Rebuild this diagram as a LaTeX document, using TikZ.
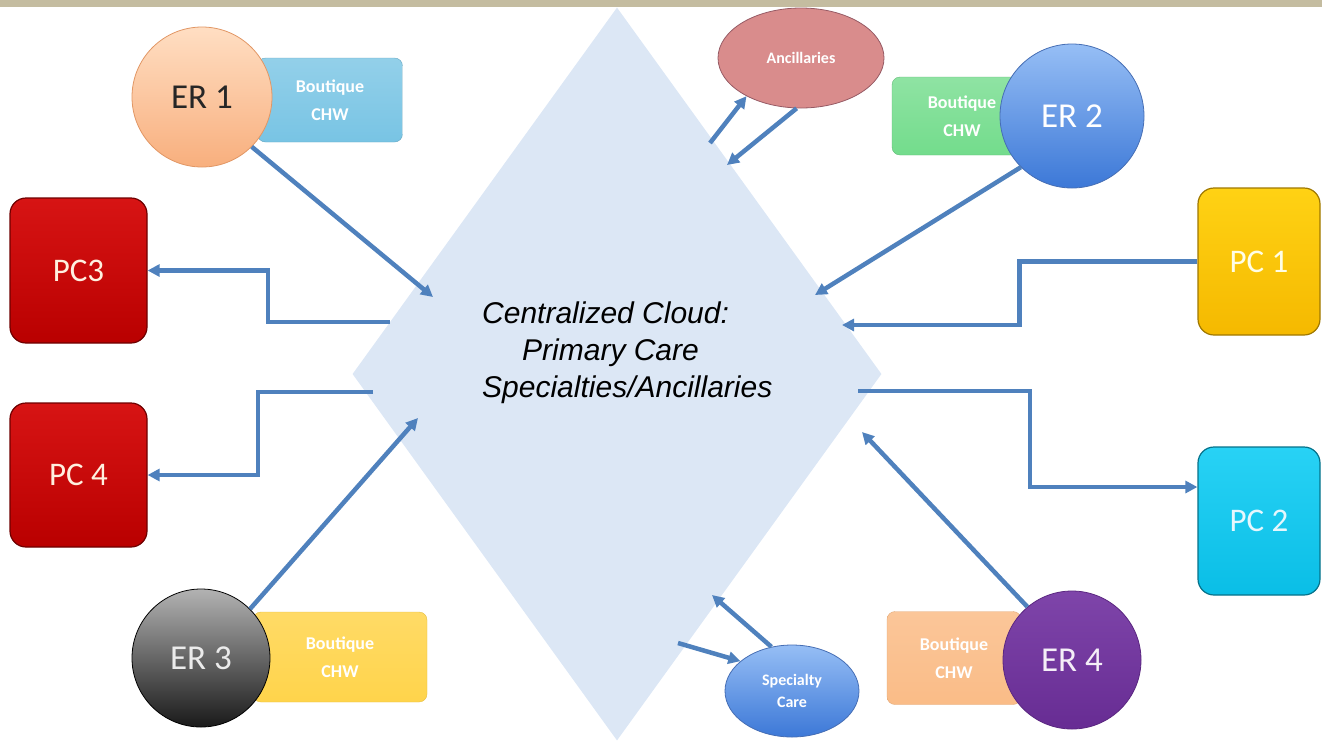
\documentclass[tikz,border=0pt]{standalone}
\usepackage{fontspec}
\setmainfont{Carlito}
\newfontfamily\cloudfont{Liberation Sans}
\usetikzlibrary{arrows.meta,shapes.geometric}

\definecolor{linkblue}{RGB}{79,129,189}
\definecolor{cloudfill}{RGB}{220,231,245}
\definecolor{stripcol}{RGB}{196,188,160}
\definecolor{peachtop}{RGB}{255,222,195}
\definecolor{peachbot}{RGB}{248,175,125}
\definecolor{peachline}{RGB}{225,150,100}
\definecolor{bluetop}{RGB}{150,190,245}
\definecolor{bluebot}{RGB}{60,120,215}
\definecolor{blueline}{RGB}{70,110,180}
\definecolor{purplefill}{RGB}{112,48,160}
\definecolor{salmonfill}{RGB}{217,140,140}
\definecolor{salmonline}{RGB}{150,90,100}
\definecolor{chwblue}{RGB}{120,196,228}
\definecolor{chwgreen}{RGB}{115,220,140}
\definecolor{chwyellow}{RGB}{255,212,75}
\definecolor{chworange}{RGB}{250,188,135}
\definecolor{redtop}{RGB}{215,20,20}
\definecolor{redbot}{RGB}{185,0,0}
\definecolor{yellowtop}{RGB}{255,210,20}
\definecolor{yellowbot}{RGB}{245,185,0}
\definecolor{cyantop}{RGB}{40,210,245}
\definecolor{cyanbot}{RGB}{10,190,230}

\tikzset{
  link/.style={draw=linkblue, line width=4.5pt, -{Triangle[length=12pt,width=12pt]}},
  ernode/.style={circle, minimum size=#1, inner sep=0pt, line width=0.8pt,
    font=\fontsize{35}{42}\selectfont},
  chwbox/.style={rectangle, rounded corners=8pt, inner sep=0pt, align=center,
    text=white, font=\bfseries\fontsize{18}{28}\selectfont},
  pcbox/.style={rectangle, rounded corners=16pt, inner sep=0pt, line width=1.2pt,
    font=\fontsize{33}{40}\selectfont},
  svcnode/.style={ellipse, inner sep=0pt, align=center, text=white,
    line width=0.8pt, font=\bfseries\fontsize{16}{22}\selectfont}
}

\begin{document}
\begin{tikzpicture}[x=1pt,y=1pt,yscale=-1,xscale=1]
\useasboundingbox (0,0) rectangle (1322,740);

%Shape: Rectangle [top strip]
\fill [stripcol] (0,0) rectangle (1322,7);

%Shape: Diamond [cloud]
\node [diamond, fill=cloudfill, minimum width=529, minimum height=733, inner sep=0pt] (cloud) at (617,374) {};
% Text Node
\node [anchor=north west, inner sep=0pt, align=left, font=\cloudfont\itshape\fontsize{30}{37}\selectfont] (cloudtxt) at (482,302)
  {Centralized Cloud:\\\hspace*{40pt}Primary Care\\Specialties/Ancillaries};

% points on the cloud
\coordinate (in_er1) at (433,297);
\coordinate (out_pc3) at (390,322);
\coordinate (out_pc4) at (373,392);
\coordinate (in_er3) at (418,418);
\coordinate (in_er2) at (815,295);
\coordinate (in_pc1) at (842,325);
\coordinate (out_pc2) at (858,391);
\coordinate (in_er4) at (862,432);
\coordinate (out_anc) at (710,143);
\coordinate (in_anc) at (727,165);
\coordinate (in_spc) at (712,595);
\coordinate (out_spc) at (678,643);

%Shape: Rounded Rect [boutique boxes]
\node [chwbox, top color=chwblue!80!white, bottom color=chwblue, draw=chwblue!85!black, minimum width=145, minimum height=84] (chw1) at (330,100) {Boutique\\CHW};
\node [chwbox, top color=chwgreen!80!white, bottom color=chwgreen, draw=chwgreen!85!black, minimum width=140, minimum height=78] (chw2) at (962,116) {Boutique\\CHW};
\node [chwbox, top color=chwyellow!85!white, bottom color=chwyellow, draw=chwyellow!90!black, minimum width=174, minimum height=90] (chw3) at (340,657) {Boutique\\CHW};
\node [chwbox, top color=chworange!85!white, bottom color=chworange, draw=chworange!90!black, minimum width=134, minimum height=93] (chw4) at (954,658) {Boutique\\CHW};

%Shape: Circle [ER]
\node [ernode=140, top color=peachtop, bottom color=peachbot, draw=peachline, text=black!85] (er1) at (202,97) {ER 1};
\node [ernode=144, top color=bluetop, bottom color=bluebot, draw=blueline, text=white] (er2) at (1072,116) {ER 2};
\node [ernode=138, top color=black!30, bottom color=black!90, draw=black, text=white!92!black] (er3) at (201,658) {ER 3};
\node [ernode=138, top color=purplefill!90!white, bottom color=purplefill!92!black, draw=purplefill!80!black, text=white!92!purplefill] (er4) at (1072,660) {ER 4};

%Shape: Ellipse [services]
\node [svcnode, fill=salmonfill, draw=salmonline, minimum width=166, minimum height=100] (anc) at (801,58) {Ancillaries};
\node [svcnode, top color=bluetop, bottom color=bluebot, draw=blueline, minimum width=134, minimum height=92] (spc) at (792,691) {Specialty\\Care};

%Shape: Rounded Rect [PC boxes]
\node [pcbox, top color=redtop, bottom color=redbot, draw=redbot!60!black, text=white!88!orange, minimum width=137, minimum height=145] (pc3) at (78.5,270.5) {PC3};
\node [pcbox, top color=redtop, bottom color=redbot, draw=redbot!60!black, text=white!88!orange, minimum width=137, minimum height=144] (pc4) at (78.5,475) {PC 4};
\node [pcbox, top color=yellowtop, bottom color=yellowbot, draw=yellowbot!65!black, text=white!90!yellow, minimum width=122, minimum height=147] (pc1) at (1259,261.5) {PC 1};
\node [pcbox, top color=cyantop, bottom color=cyanbot, draw=cyanbot!60!black, text=white!90!cyan, minimum width=122, minimum height=148] (pc2) at (1259,521) {PC 2};

%Straight Lines [links]
\draw [link] (er1.-45) -- (in_er1);
\draw [link] (er2.225) -- (in_er2);
\draw [link] (er3.45) -- (in_er3);
\draw [link] (er4.130) -- (in_er4);
\draw [link] (out_pc3) -- ++(-122,0) |- (pc3.east);
\draw [link] (out_pc4) -- ++(-115,0) |- (pc4.east);
\draw [link] (pc1.west) -- ++(-178,0) |- (in_pc1);
\draw [link] (out_pc2) -- ++(172,0) |- ([yshift=-34pt]pc2.west);
\draw [link] (out_anc) -- (anc.215);
\draw [link] (anc.265) -- (in_anc);
\draw [link] (spc.115) -- (in_spc);
\draw [link] (out_spc) -- (spc.150);

\end{tikzpicture}
\end{document}
